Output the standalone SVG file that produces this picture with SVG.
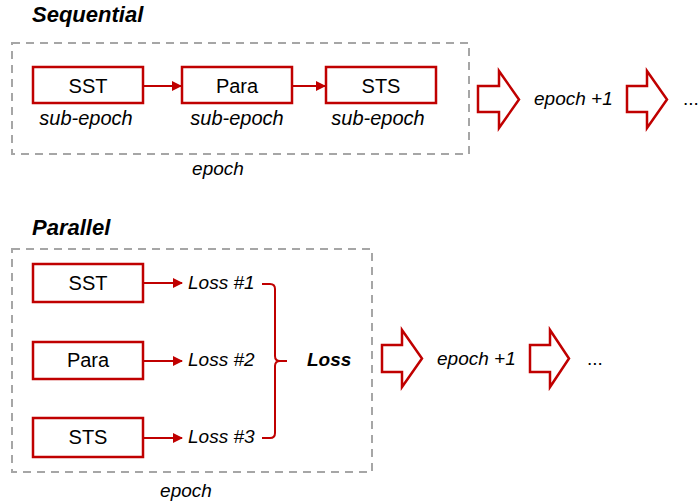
<svg xmlns="http://www.w3.org/2000/svg" width="699" height="502" viewBox="0 0 699 502">
<style>
.t{font-family:"Liberation Sans",Arial,sans-serif;fill:#000}
.title{font-size:22px;font-weight:bold;font-style:italic}
.box{fill:#fff;stroke:#C00000;stroke-width:2.5}
.lbl{font-size:20px;text-anchor:middle}
.it{font-size:19px;font-style:italic}
.sub{font-size:20px;font-style:italic;text-anchor:middle}
.dash{fill:none;stroke:#A6A6A6;stroke-width:2;stroke-dasharray:8 6}
.con{fill:none;stroke:#C00000;stroke-width:2}
.blk{fill:#fff;stroke:#C00000;stroke-width:2.5;stroke-linejoin:miter}
</style>
<defs>
<marker id="ah" viewBox="0 0 10 10" refX="9" refY="5" markerWidth="5" markerHeight="5" orient="auto" markerUnits="strokeWidth">
<path d="M0,0 L10,5 L0,10 z" fill="#C00000"/>
</marker>
</defs>
<rect width="699" height="502" fill="#fff"/>

<text class="t title" x="32" y="22">Sequential</text>
<rect class="dash" x="12" y="43" width="457" height="111"/>
<text class="t it" x="218" y="175" text-anchor="middle">epoch</text>

<g id="seq-sst"><rect class="box" x="33" y="67" width="110" height="36"/><text class="t lbl" x="88" y="93">SST</text><text class="t sub" x="86" y="125">sub-epoch</text></g>
<g id="seq-para"><rect class="box" x="182" y="67" width="110" height="36"/><text class="t lbl" x="237" y="93">Para</text><text class="t sub" x="237" y="125">sub-epoch</text></g>
<g id="seq-sts"><rect class="box" x="326" y="67" width="110" height="36"/><text class="t lbl" x="381" y="93">STS</text><text class="t sub" x="378" y="125">sub-epoch</text></g>

<g id="seq-next">
<polygon class="blk" points="478,86 499,86 499,71 519,99.5 499,128 499,112 478,112"/>
<text class="t it" x="534" y="105">epoch +1</text>
<polygon class="blk" points="627,86 647,86 647,71 667,99.5 647,128 647,112 627,112"/>
<text class="t" x="683" y="105" font-size="19">...</text>
</g>

<text class="t title" x="32" y="235">Parallel</text>
<rect class="dash" x="12" y="249" width="360" height="223"/>
<text class="t it" x="186" y="497" text-anchor="middle">epoch</text>

<g id="par-sst"><rect class="box" x="33" y="264" width="110" height="38"/><text class="t lbl" x="88" y="290">SST</text></g>
<g id="par-para"><rect class="box" x="33" y="342" width="110" height="37"/><text class="t lbl" x="88" y="367">Para</text></g>
<g id="par-sts"><rect class="box" x="33" y="418" width="110" height="39"/><text class="t lbl" x="88" y="444">STS</text></g>

<g id="loss1"><text class="t it" x="188" y="289">Loss #1</text></g>
<g id="loss2"><text class="t it" x="188" y="366">Loss #2</text></g>
<g id="loss3"><text class="t it" x="188" y="443">Loss #3</text></g>
<g id="loss"><text class="t" x="307" y="366" font-size="19" font-weight="bold" font-style="italic">Loss</text></g>

<g id="par-next">
<polygon class="blk" points="382,345 402,345 402,330 422,358.5 402,387 402,372 382,372"/>
<text class="t it" x="437" y="365">epoch +1</text>
<polygon class="blk" points="530,345 550,345 550,330 569,358.5 550,387 550,372 530,372"/>
<text class="t" x="587" y="365" font-size="19">...</text>
</g>

<g id="connectors">
<line class="con" x1="143" y1="86" x2="181" y2="86" marker-end="url(#ah)"/>
<line class="con" x1="292" y1="86" x2="325" y2="86" marker-end="url(#ah)"/>
<line class="con" x1="143" y1="283" x2="182" y2="283" marker-end="url(#ah)"/>
<line class="con" x1="143" y1="361" x2="182" y2="361" marker-end="url(#ah)"/>
<line class="con" x1="143" y1="438" x2="182" y2="438" marker-end="url(#ah)"/>
<path class="con" stroke-width="2.5" d="M262,284 H270 Q275,284 275,289 V356 Q275,361 280,361 H287 M280,361 Q275,361 275,366 V433 Q275,438 270,438 H262"/>
</g>
</svg>
